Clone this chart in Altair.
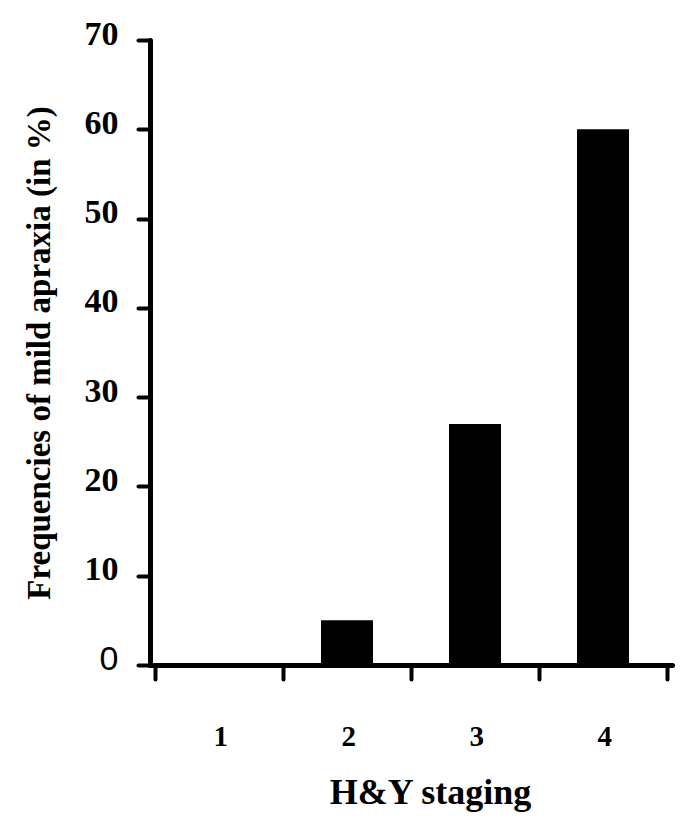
import altair as alt
import pandas as pd

stages = [1, 2, 3, 4]
frequencies = [0, 5, 27, 60]
y_ticks = [0, 10, 20, 30, 40, 50, 60, 70]
x_ticks = [0.5, 1.5, 2.5, 3.5, 4.5]

df = pd.DataFrame({"stage": stages, "freq": frequencies})

W, H = 522, 625

chart = alt.Chart(df).mark_bar(color="black", width=52).encode(
    x=alt.X(
        "stage:Q",
        scale=alt.Scale(domain=[0.5, 4.5], nice=False, zero=False),
        axis=alt.Axis(
            title="H&Y staging",
            values=x_ticks,
            labelExpr="datum.value < 4 ? format(datum.value + 0.5, 'd') : ''",
            labelOffset=W / 8,
            labelFont="Liberation Serif",
            labelFontWeight="bold",
            labelFontSize=29,
            labelColor="black",
            labelPadding=43,
            tickSize=14,
            tickWidth=4,
            tickCap="round",
            tickColor="black",
            domainColor="black",
            domainWidth=5,
            domainCap="round",
            grid=False,
            titleFont="Liberation Serif",
            titleFontWeight="bold",
            titleFontSize=36,
            titleColor="black",
            titlePadding=24,
            titleX=280,
        ),
    ),
    y=alt.Y(
        "freq:Q",
        scale=alt.Scale(domain=[0, 70], nice=False),
        axis=alt.Axis(
            title="Frequencies of mild apraxia (in %)",
            values=y_ticks,
            labelFont={"condition": {"test": "datum.value === 0", "value": "Liberation Sans"}, "value": "Liberation Serif"},
            labelFontWeight={"condition": {"test": "datum.value === 0", "value": "normal"}, "value": "bold"},
            labelFontSize=34,
            labelColor="black",
            labelPadding=20,
            labelOffset=-6,
            tickSize=12,
            tickWidth=4,
            tickCap="round",
            tickColor="black",
            domainColor="black",
            domainWidth=5,
            domainCap="round",
            grid=False,
            titleFont="Liberation Serif",
            titleFontWeight="bold",
            titleFontSize=33,
            titleColor="black",
            titlePadding=28,
        ),
    ),
).properties(
    width=W,
    height=H,
    autosize=alt.AutoSizeParams(type="none"),
    padding={"left": 142, "top": 32, "right": 9, "bottom": 150},
).configure(
    background="white",
    view=alt.ViewConfig(stroke="transparent", strokeWidth=0),
)

chart.save("out.html", embed_options={"renderer": "svg", "actions": False})
